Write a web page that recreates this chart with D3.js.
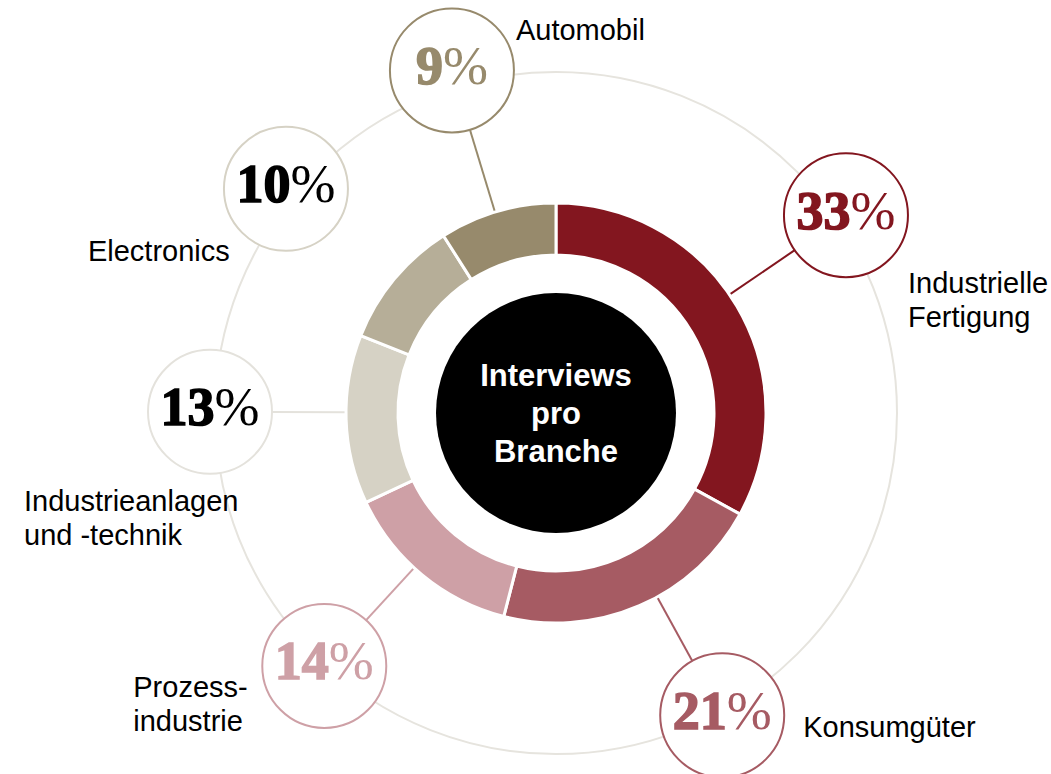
<!DOCTYPE html>
<html>
<head>
<meta charset="utf-8">
<script src="https://cdn.jsdelivr.net/npm/d3@7"></script>
<style>
  body { margin: 0; background: #fff; }
  svg { display: block; }
</style>
</head>
<body>
<div id="chart"></div>
<script>
// data
var categories = ["Industrielle Fertigung", "Konsumgüter", "Prozessindustrie",
  "Industrieanlagen und -technik", "Electronics", "Automobil"];
var shares = [33, 21, 14, 13, 10, 9];
var labelLines = [["Industrielle", "Fertigung"], ["Konsumgüter"], ["Prozess-", "industrie"],
  ["Industrieanlagen", "und -technik"], ["Electronics"], ["Automobil"]];
var centerTitle = ["Interviews", "pro", "Branche"];

// styles
var sliceColors = ["#83161f", "#a65b63", "#cea0a6", "#d6d2c5", "#b6ae98", "#978a6c"];
var pctColors = ["#83161f", "#a65b63", "#cea0a6", "#000000", "#000000", "#978a6c"];
var ringColors = ["#83161f", "#a65b63", "#cea0a6", "#e4e2dc", "#d6d2c5", "#978a6c"];
var lineColors = ["#83161f", "#a65b63", "#cea0a6", "#e4e2dc", null, "#978a6c"];

// layout tweaks for the label bubbles (angle nudge in degrees, distance from centre)
var bubbleNudge = [-3.7, -5.4, 2.9, 2.0, 0.1, -0.7];
var bubbleDist = [351, 345, 343, 346, 351, 358];
// offset of the category text from its bubble centre
var textOffset = [[62, 78], [81, 22], [-191, 31], [-186, 99], [-198, 72], [64, -30]];

var width = 1051,
  height = 774;
var cx = 556, cy = 413;
var outerR = 210, innerR = 158, holeR = 120, bigR = 341, bubbleR = 62;

var svg = d3.select("#chart")
  .append("svg")
  .attr("width", width)
  .attr("height", height);

var g = svg.append("g").attr("transform", "translate(" + cx + "," + cy + ")");

var pie = d3.pie().sort(null).value(function (d) { return d; });
var arcs = pie(shares);

var arc = d3.arc().innerRadius(innerR).outerRadius(outerR);

// big faint ring
g.append("circle")
  .attr("r", bigR)
  .attr("fill", "none")
  .attr("stroke", "#e6e4de")
  .attr("stroke-width", 2);

// bubble positions
var bubbles = arcs.map(function (a, i) {
  var ang = (a.startAngle + a.endAngle) / 2 + bubbleNudge[i] * Math.PI / 180;
  return {
    ang: ang,
    x: Math.sin(ang) * bubbleDist[i],
    y: -Math.cos(ang) * bubbleDist[i]
  };
});

// connectors
bubbles.forEach(function (b, i) {
  if (!lineColors[i]) return;
  var d = bubbleDist[i];
  g.append("line")
    .attr("x1", Math.sin(b.ang) * outerR)
    .attr("y1", -Math.cos(b.ang) * outerR)
    .attr("x2", Math.sin(b.ang) * (d - bubbleR))
    .attr("y2", -Math.cos(b.ang) * (d - bubbleR))
    .attr("stroke", lineColors[i])
    .attr("stroke-width", 2);
});

// donut
g.selectAll("path.slice")
  .data(arcs)
  .enter().append("path")
  .attr("class", "slice")
  .attr("d", arc)
  .attr("fill", function (d, i) { return sliceColors[i]; })
  .attr("stroke", "#fff")
  .attr("stroke-width", 3);

// centre
g.append("circle").attr("r", holeR).attr("fill", "#000");
g.append("text")
  .attr("text-anchor", "middle")
  .attr("fill", "#fff")
  .style("font-family", "'Liberation Sans', Arial, sans-serif")
  .style("font-weight", "bold")
  .style("font-size", "31px")
  .selectAll("tspan")
  .data(centerTitle)
  .enter().append("tspan")
  .attr("x", 0)
  .attr("y", function (d, i) { return -27 + i * 38; })
  .text(function (d) { return d; });

// bubbles
var bub = g.selectAll("g.bubble")
  .data(bubbles)
  .enter().append("g")
  .attr("class", "bubble")
  .attr("transform", function (d) { return "translate(" + d.x + "," + d.y + ")"; });

bub.append("circle")
  .attr("r", bubbleR)
  .attr("fill", "#fff")
  .attr("stroke", function (d, i) { return ringColors[i]; })
  .attr("stroke-width", 2);

var pct = bub.append("text")
  .attr("text-anchor", "middle")
  .attr("y", 13.5)
  .attr("fill", function (d, i) { return pctColors[i]; })
  .style("font-family", "'Liberation Serif', 'Times New Roman', serif")
  .style("font-size", "54px");
pct.append("tspan")
  .style("font-weight", "bold")
  .attr("stroke", function (d, i) { return pctColors[i]; })
  .attr("stroke-width", 1.6)
  .text(function (d, i) { return shares[i]; });
pct.append("tspan")
  .style("font-weight", "normal")
  .text("%");

// category labels
bub.append("text")
  .attr("fill", "#000")
  .style("font-family", "'Liberation Sans', Arial, sans-serif")
  .style("font-size", "29px")
  .each(function (d, i) {
    d3.select(this).selectAll("tspan")
      .data(labelLines[i])
      .enter().append("tspan")
      .attr("x", textOffset[i][0])
      .attr("y", function (t, j) { return textOffset[i][1] + j * 34; })
      .text(function (t) { return t; });
  });
</script>
</body>
</html>
